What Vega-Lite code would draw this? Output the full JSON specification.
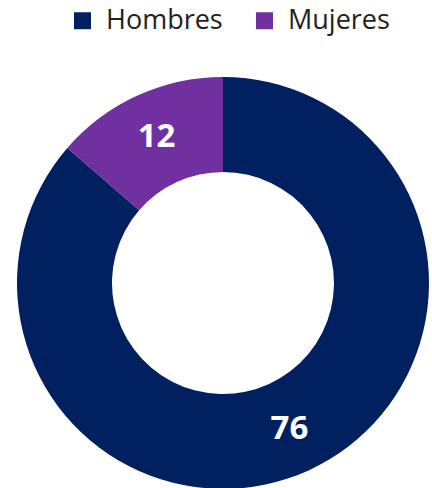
{
  "$schema": "https://vega.github.io/schema/vega-lite/v6.json",
  "width": 418,
  "height": 412,
  "autosize": "none",
  "padding": {"left": 14, "top": 77, "right": 0, "bottom": 0},
  "background": "white",
  "config": {"view": {"stroke": null}},
  "data": {"values": [
    {"genero": "Hombres", "valor": 76, "orden": 1},
    {"genero": "Mujeres", "valor": 12, "orden": 2}
  ]},
  "encoding": {
    "theta": {"field": "valor", "type": "quantitative", "stack": true},
    "order": {"field": "orden", "type": "quantitative", "sort": "ascending"}
  },
  "layer": [
    {
      "mark": {"type": "arc", "outerRadius": 206, "innerRadius": 111},
      "encoding": {
        "color": {
          "field": "genero", "type": "nominal",
          "scale": {"domain": ["Hombres", "Mujeres"], "range": ["#002060", "#7030a0"]},
          "legend": {
            "orient": "none", "direction": "horizontal",
            "legendX": 55, "legendY": -70,
            "title": null,
            "symbolType": "square", "symbolSize": 289, "symbolStrokeWidth": 0,
            "labelFont": "Open Sans", "labelFontSize": 27, "labelColor": "#222222",
            "labelOffset": 10, "columnPadding": 28, "labelLimit": 300
          }
        }
      }
    },
    {
      "mark": {"type": "text", "radius": 160, "font": "Open Sans", "fontWeight": "bold", "fontSize": 33, "fill": "white"},
      "encoding": {
        "detail": {"field": "genero", "type": "nominal"},
        "text": {"field": "valor", "type": "quantitative"}
      }
    }
  ]
}
